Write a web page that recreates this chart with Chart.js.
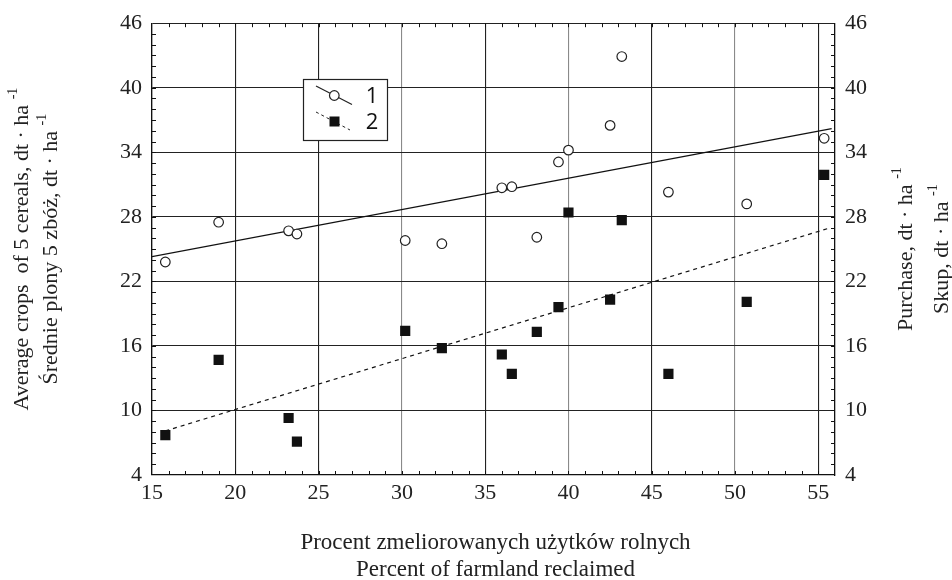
<!DOCTYPE html>
<html>
<head>
<meta charset="utf-8">
<script src="https://cdn.jsdelivr.net/npm/chart.js@4.4.1/dist/chart.umd.min.js"></script>
<style>
  html, body { margin: 0; padding: 0; background: #fff; }
  #wrap { width: 952px; height: 580px; }
</style>
</head>
<body>
<div id="wrap"><canvas id="chart" width="952" height="580"></canvas></div>
<script>
// percent of farmland reclaimed
const reclaimed = [15.8, 19.0, 23.2, 23.7, 30.2, 32.4, 36.0, 36.6, 38.1, 39.4, 40.0, 42.5, 43.2, 46.0, 50.7, 55.35];
// series 1: average crops of 5 cereals
const crops = [23.8, 27.5, 26.7, 26.4, 25.8, 25.5, 30.7, 30.8, 26.1, 33.1, 34.2, 36.5, 42.9, 30.3, 29.2, 35.3];
// series 2: purchase
const purchase = [7.7, 14.7, 9.3, 7.1, 17.4, 15.8, 15.2, 13.4, 17.3, 19.6, 28.4, 20.3, 27.7, 13.4, 20.1, 31.9];

// regression lines (end points)
const fit1X = [15, 55.8];
const fit1Y = [24.3, 36.2];
const fit2X = [15.8, 55.55];
const fit2Y = [8.1, 26.9];

const xTicks = [15, 20, 25, 30, 35, 40, 45, 50, 55];
const yTicks = [4, 10, 16, 22, 28, 34, 40, 46];

const serif = '"Liberation Serif", "DejaVu Serif", serif';

function pts(xs, ys) {
    return xs.map((x, i) => ({ x: x, y: ys[i] }));
}

// text with a raised "-1" at the end
function textSup(ctx, main, sup, x, y, size) {
    ctx.font = size + 'px ' + serif;
    const w1 = ctx.measureText(main).width;
    ctx.font = Math.round(size * 0.62) + 'px ' + serif;
    const w2 = ctx.measureText(sup).width;
    const start = x - (w1 + w2) / 2;
    ctx.textAlign = 'left';
    ctx.textBaseline = 'middle';
    ctx.font = size + 'px ' + serif;
    ctx.fillText(main, start, y);
    ctx.font = Math.round(size * 0.62) + 'px ' + serif;
    ctx.fillText(sup, start + w1, y - size * 0.38);
}

const extras = {
    id: 'extras',
    afterDraw(chart) {
        const ctx = chart.ctx;
        const a = chart.chartArea;
        const xs = chart.scales.x, ys = chart.scales.y;
        ctx.save();
        // minor ticks, all pointing inwards
        ctx.strokeStyle = '#111';
        ctx.lineWidth = 1;
        ctx.beginPath();
        for (let v = 16; v <= 55; v++) {
            const px = Math.round(xs.getPixelForValue(v)) + 0.5;
            ctx.moveTo(px, a.bottom); ctx.lineTo(px, a.bottom - 4);
            ctx.moveTo(px, a.top); ctx.lineTo(px, a.top + 4);
        }
        for (let v = 5; v < 46; v++) {
            const py = Math.round(ys.getPixelForValue(v)) + 0.5;
            ctx.moveTo(a.left, py); ctx.lineTo(a.left + 4, py);
            ctx.moveTo(a.right, py); ctx.lineTo(a.right - 4, py);
        }
        ctx.stroke();

        // legend box
        ctx.fillStyle = '#fff';
        ctx.fillRect(303.5, 79.5, 84, 61);
        ctx.strokeStyle = '#222';
        ctx.lineWidth = 1.2;
        ctx.strokeRect(303.5, 79.5, 84, 61);
        ctx.beginPath();
        ctx.moveTo(316, 86); ctx.lineTo(352, 104.5);
        ctx.stroke();
        ctx.beginPath();
        ctx.arc(334.3, 95.5, 4.8, 0, Math.PI * 2);
        ctx.fillStyle = '#fff';
        ctx.fill();
        ctx.stroke();
        ctx.setLineDash([3, 3]);
        ctx.lineWidth = 1;
        ctx.beginPath();
        ctx.moveTo(316, 112); ctx.lineTo(350, 130);
        ctx.stroke();
        ctx.setLineDash([]);
        ctx.fillStyle = '#111';
        ctx.fillRect(329.5, 116.5, 10, 10);
        ctx.font = '22px "Open Sans", "DejaVu Sans", sans-serif';
        ctx.textAlign = 'center';
        ctx.textBaseline = 'middle';
        ctx.fillText('1', 372, 97);
        ctx.fillText('2', 372, 123);

        // axis titles
        ctx.fillStyle = '#222';
        const midY = (a.top + a.bottom) / 2;
        const titles = [
            ['Average crops  of 5 cereals, dt \u00b7 ha ', 22],
            ['\u015arednie plony 5 zb\u00f3\u017c, dt \u00b7 ha ', 51],
            ['Purchase, dt \u00b7 ha ', 906],
            ['Skup, dt \u00b7 ha ', 942]
        ];
        titles.forEach(t => {
            ctx.save();
            ctx.translate(t[1], midY);
            ctx.rotate(-Math.PI / 2);
            textSup(ctx, t[0], '-1', 0, 0, 22);
            ctx.restore();
        });

        const midX = (a.left + a.right) / 2 + 2;
        ctx.font = '23px ' + serif;
        ctx.textAlign = 'center';
        ctx.textBaseline = 'middle';
        ctx.fillText('Procent zmeliorowanych u\u017cytk\u00f3w rolnych', midX, 543);
        ctx.fillText('Percent of farmland reclaimed', midX, 570);
        ctx.restore();
    }
};

const tickFont = { family: serif, size: 22 };

new Chart(document.getElementById('chart').getContext('2d'), {
    type: 'scatter',
    data: {
        datasets: [
            {
                label: '1',
                data: pts(reclaimed, crops),
                pointStyle: 'circle',
                pointRadius: 4.8,
                pointBackgroundColor: '#fff',
                pointBorderColor: '#222',
                pointBorderWidth: 1.2,
                order: 1
            },
            {
                label: '2',
                data: pts(reclaimed, purchase),
                pointStyle: 'rect',
                pointRadius: 7.2,
                pointBackgroundColor: '#111',
                pointBorderColor: '#111',
                pointBorderWidth: 0,
                order: 1
            },
            {
                type: 'line',
                label: 'fit1',
                data: pts(fit1X, fit1Y),
                borderColor: '#111',
                borderWidth: 1.2,
                pointRadius: 0,
                fill: false,
                order: 2
            },
            {
                type: 'line',
                label: 'fit2',
                data: pts(fit2X, fit2Y),
                borderColor: '#111',
                borderWidth: 1.2,
                borderDash: [4, 4],
                pointRadius: 0,
                fill: false,
                order: 2
            }
        ]
    },
    options: {
        responsive: false,
        animation: false,
        layout: { padding: { top: 22, left: 0, right: 0, bottom: 0 } },
        plugins: {
            legend: { display: false },
            tooltip: { enabled: false }
        },
        scales: {
            x: {
                type: 'linear',
                min: 15,
                max: 56,
                afterBuildTicks: s => { s.ticks = xTicks.map(v => ({ value: v })); },
                afterFit: s => { s.height = 105; },
                ticks: { font: tickFont, color: '#222', padding: 5, maxRotation: 0 },
                grid: {
                    drawTicks: false,
                    color: c => (c.tick && [30, 40, 50].includes(c.tick.value)) ? '#8a8a8a' : '#222',
                    lineWidth: 1.1
                },
                border: { color: '#111', width: 1.3 }
            },
            y: {
                min: 4,
                max: 46,
                position: 'left',
                afterBuildTicks: s => { s.ticks = yTicks.map(v => ({ value: v })); },
                afterFit: s => { s.width = 152; },
                ticks: { font: tickFont, color: '#222', padding: 10 },
                grid: { drawTicks: false, color: '#222', lineWidth: 1.1 },
                border: { color: '#111', width: 1.3 }
            },
            y2: {
                min: 4,
                max: 46,
                position: 'right',
                afterBuildTicks: s => { s.ticks = yTicks.map(v => ({ value: v })); },
                afterFit: s => { s.width = 117; },
                ticks: { font: tickFont, color: '#222', padding: 10 },
                grid: { drawTicks: false, drawOnChartArea: false },
                border: { color: '#111', width: 1.3 }
            }
        }
    },
    plugins: [extras]
});
</script>
</body>
</html>
